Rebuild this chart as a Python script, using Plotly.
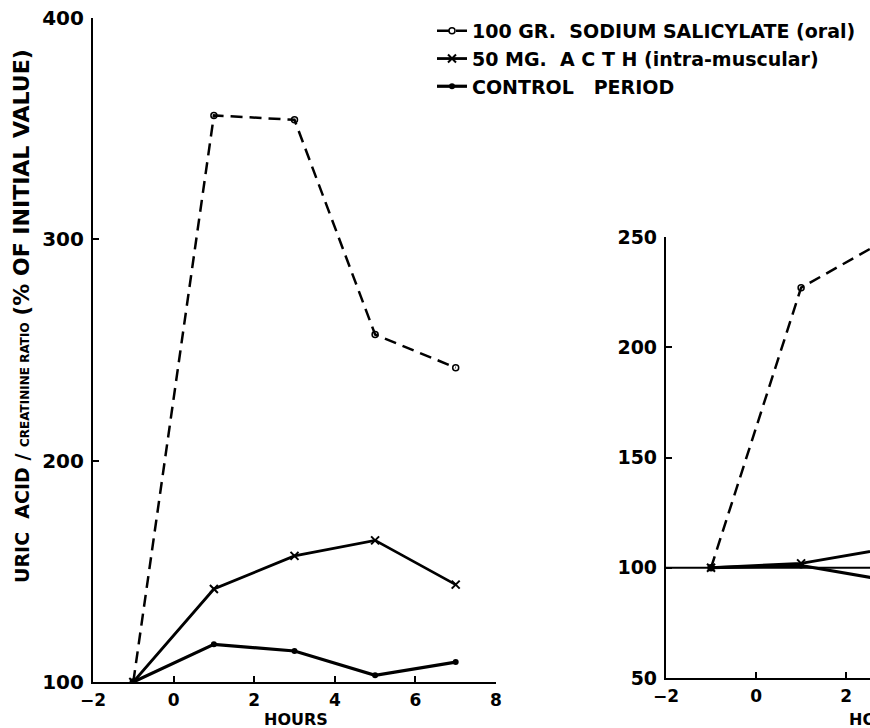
import plotly.graph_objects as go

# ---- data ----
hours_left = [-1, 1, 3, 5, 7]
sal_left = [100, 356, 354, 257, 242]
acth_left = [100, 142, 157, 164, 144]
ctrl_left = [100, 117, 114, 103, 109]

hours_right = [-1, 1, 3]
sal_right = [100, 227, 250]
acth_right = [100, 102, 109]
ctrl_right = [100, 101, 94]

x_ticks = [-2, 0, 2, 4, 6, 8]
y_ticks_left = [100, 200, 300, 400]
y_ticks_right = [50, 100, 150, 200, 250]

legend_names = ["100 GR.\u00a0\u00a0SODIUM SALICYLATE (oral)",
                "50 MG.\u00a0\u00a0A C T H (intra-muscular)",
                "CONTROL\u00a0\u00a0\u00a0PERIOD"]

FONT = "DejaVu Sans"
W, H = 870, 728

fig = go.Figure()

def add_series(x, y, xa, ya, show):
    fig.add_trace(go.Scatter(x=x, y=y[0], xaxis=xa, yaxis=ya, mode="lines+markers",
                             name=legend_names[0], showlegend=show, legendrank=1,
                             line=dict(color="black", width=2.5, dash="12px,7px"),
                             marker=dict(symbol="circle-open", size=6, color="black",
                                         line=dict(width=1.5, color="black"))))
    fig.add_trace(go.Scatter(x=x, y=y[1], xaxis=xa, yaxis=ya, mode="lines+markers",
                             name=legend_names[1], showlegend=show, legendrank=2,
                             line=dict(color="black", width=2.8),
                             marker=dict(symbol="x-thin", size=8, color="black",
                                         line=dict(width=2, color="black"))))
    fig.add_trace(go.Scatter(x=x, y=y[2], xaxis=xa, yaxis=ya, mode="lines+markers",
                             name=legend_names[2], showlegend=show, legendrank=3,
                             line=dict(color="black", width=3.2),
                             marker=dict(symbol="circle", size=6, color="black")))

add_series(hours_left, [sal_left, acth_left, ctrl_left], "x", "y", True)
add_series(hours_right, [sal_right, acth_right, ctrl_right], "x2", "y2", False)

# reference line at 100 in the right panel
fig.add_shape(type="line", xref="x2 domain", yref="y2", x0=0, x1=1, y0=100, y1=100,
              line=dict(color="black", width=2.2))

def axis(font_size, **kw):
    d = dict(showgrid=False, zeroline=False, showline=True, linecolor="black",
             linewidth=2.2, ticks="inside", ticklen=6, tickwidth=2, tickcolor="black",
             automargin=False,
             tickfont=dict(family=FONT, size=font_size, color="black", weight="bold"))
    d.update(kw)
    return d

fig.update_layout(
    template="none",
    width=W, height=H,
    margin=dict(l=0, r=0, t=0, b=0, pad=0, autoexpand=False),
    paper_bgcolor="white", plot_bgcolor="white",
    font=dict(family=FONT, color="black"),
    xaxis=axis(17, domain=[93 / W, 496 / W], range=[-2, 8], tickvals=x_ticks,
               anchor="y", ticklabelstandoff=1),
    yaxis=axis(20, domain=[(H - 682) / H, (H - 18) / H], range=[100, 400],
               tickvals=y_ticks_left, anchor="x", ticklabelstandoff=3),
    xaxis2=axis(17, domain=[666 / W, 1.0], range=[-2, 2.53], tickvals=x_ticks,
                anchor="y2", ticklabelstandoff=1),
    yaxis2=axis(19, domain=[(H - 678) / H, (H - 237) / H], range=[50, 250],
                tickvals=y_ticks_right, anchor="x2", ticklabelstandoff=3),
    legend=dict(x=432 / W, y=1 - 12 / H, xanchor="left", yanchor="top",
                bgcolor="rgba(0,0,0,0)", itemwidth=30, tracegroupgap=0,
                font=dict(family=FONT, size=19, color="black", weight="bold")),
    showlegend=True,
    hovermode=False,
)

fig.add_annotation(text="HOURS", xref="paper", yref="paper", x=296 / W, y=1 - 719 / H,
                   showarrow=False, xanchor="center", yanchor="middle",
                   font=dict(family=FONT, size=16, color="black", weight="bold"))
fig.add_annotation(text="HOURS", xref="paper", yref="paper", x=881 / W, y=1 - 719 / H,
                   showarrow=False, xanchor="center", yanchor="middle",
                   font=dict(family=FONT, size=16, color="black", weight="bold"))
fig.add_annotation(
    text=("URIC\u00a0\u00a0ACID / "
          "<span style='font-size:12px'>CREATININE RATIO</span> "
          "<span style='font-size:22px'>(% OF INITIAL VALUE)</span>"),
    xref="paper", yref="paper", x=21 / W, y=1 - 316 / H, textangle=-90,
    showarrow=False, xanchor="center", yanchor="middle",
    font=dict(family=FONT, size=19, color="black", weight="bold"))

fig.write_html("out.html")
